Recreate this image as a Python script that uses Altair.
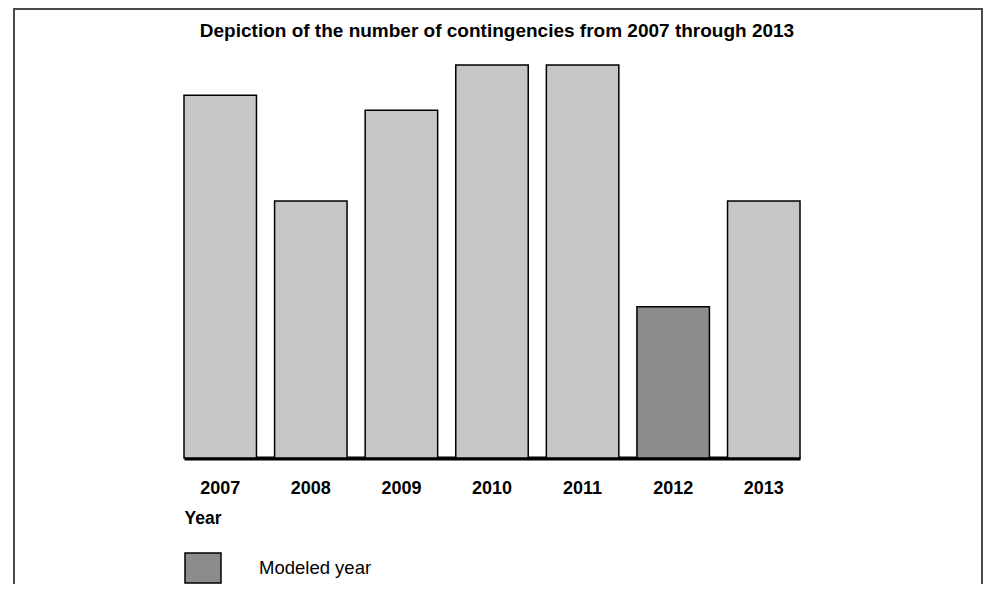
import altair as alt
import pandas as pd

years = ["2007", "2008", "2009", "2010", "2011", "2012", "2013"]
counts = [24, 17, 23, 26, 26, 10, 17]
kinds = ["Actual", "Actual", "Actual", "Actual", "Actual", "Modeled year", "Actual"]

df = pd.DataFrame({"Year": years, "Count": counts, "Kind": kinds})

FONT = "Liberation Sans"

frame = alt.Chart(alt.Data(values=[{"a": 1}])).mark_rect(
    filled=False, stroke="#4a4a4a", strokeWidth=2
).encode(
    x=alt.value(-170), x2=alt.value(798), y=alt.value(-56), y2=alt.value(600)
)

bars = alt.Chart(df).mark_bar(stroke="black", strokeWidth=1.5).encode(
    x=alt.X(
        "Year:N",
        sort=years,
        scale=alt.Scale(paddingInner=0.2, paddingOuter=0),
        axis=alt.Axis(
            title="Year",
            labelAngle=0,
            labelFont=FONT,
            labelFontSize=18,
            labelFontWeight="bold",
            labelColor="black",
            labelPadding=21,
            ticks=False,
            tickSize=0,
            domainColor="black",
            domainWidth=4,
            titleFont=FONT,
            titleFontSize=17.5,
            titleFontWeight="bold",
            titleColor="black",
            titleAnchor="start",
            titleAlign="left",
            titleBaseline="top",
            titleX=0,
            titleY=51,
        ),
    ),
    y=alt.Y("Count:Q", scale=alt.Scale(domain=[0, 26], nice=False), axis=None),
    color=alt.Color(
        "Kind:N",
        scale=alt.Scale(domain=["Actual", "Modeled year"], range=["#c6c6c6", "#8c8c8c"]),
        legend=alt.Legend(
            title=None,
            values=["Modeled year"],
            orient="none",
            legendX=0,
            legendY=484,
            padding=0,
            symbolType="M-1,-0.833L1,-0.833L1,0.833L-1,0.833Z",
            symbolSize=1296,
            symbolStrokeColor="black",
            symbolStrokeWidth=1.5,
            symbolOpacity=1,
            labelFont=FONT,
            labelFontSize=18.5,
            labelColor="black",
            labelOffset=37,
        ),
    ),
)

chart = alt.layer(frame, bars).properties(
    width=616,
    height=393,
    title=alt.TitleParams(
        "Depiction of the number of contingencies from 2007 through 2013",
        font=FONT,
        fontSize=19,
        fontWeight="bold",
        color="black",
        anchor="middle",
        frame="group",
        offset=24,
        dy=57,
        dx=5,
    ),
    autosize=alt.AutoSizeParams(type="none"),
    padding={"left": 176, "top": 57, "right": 184, "bottom": 126},
    background="white",
).configure_view(stroke=None)

chart.save("out.html", embed_options={"renderer": "svg", "actions": False})
